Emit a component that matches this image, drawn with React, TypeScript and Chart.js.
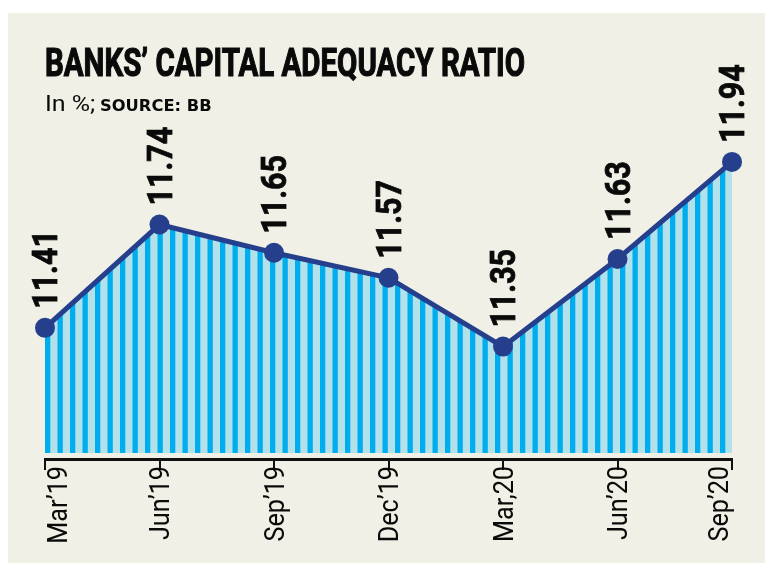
import React, { useEffect, useLayoutEffect, useRef } from 'react';
import { Chart, registerables } from 'chart.js';

Chart.register(...registerables);

const categories = ['Mar’19', 'Jun’19', 'Sep’19', 'Dec’19', 'Mar,20', 'Jun’20', 'Sep’20'];
const ratioValues = [11.41, 11.74, 11.65, 11.57, 11.35, 11.63, 11.94];
const valueLabels = ['11.41', '11.74', '11.65', '11.57', '11.35', '11.63', '11.94'];
const yMin = 10.991;
const yMax = 12.042;
const fillBase = 11.01;

const BEIGE = '#f1f0e6';
const NAVY = '#263f8d';
const DARK_STRIPE = '#00adee';
const LIGHT_STRIPE = '#b3e1ea';

function FitText(props: { text: string; width: number; style: React.CSSProperties }) {
  const ref = useRef<HTMLSpanElement>(null);
  useLayoutEffect(() => {
    const el = ref.current;
    if (!el) return;
    el.style.transform = 'none';
    const w = el.offsetWidth;
    if (w > 0) el.style.transform = `scaleX(${props.width / w})`;
  }, [props.text, props.width]);
  return (
    <span
      ref={ref}
      style={{
        position: 'absolute',
        whiteSpace: 'nowrap',
        display: 'inline-block',
        transformOrigin: '0 0',
        color: '#0a0a0a',
        ...props.style,
      }}
    >
      {props.text}
    </span>
  );
}

const labelPlugin = {
  id: 'rotatedLabels',
  afterDraw(chart: any) {
    const ctx = chart.ctx as CanvasRenderingContext2D;
    const meta = chart.getDatasetMeta(0);
    const xScale = chart.scales.x;
    const area = chart.chartArea;
    ctx.save();
    ctx.fillStyle = '#0a0a0a';
    ctx.strokeStyle = '#0a0a0a';

    // value labels above points
    const vSize = 35;
    ctx.font = `bold ${vSize}px Roboto`;
    ctx.lineWidth = 0.8;
    meta.data.forEach((pt: any, i: number) => {
      ctx.save();
      ctx.translate(pt.x, pt.y - 19);
      ctx.rotate(-Math.PI / 2);
      ctx.scale(0.87, 1);
      ctx.textAlign = 'left';
      ctx.textBaseline = 'alphabetic';
      ctx.fillText(valueLabels[i], 0, (vSize * 0.711) / 2);
      ctx.strokeText(valueLabels[i], 0, (vSize * 0.711) / 2);
      ctx.restore();
    });

    // category labels below axis
    const cSize = 28;
    const capH = cSize * 0.711;
    ctx.font = `${cSize}px Roboto`;
    categories.forEach((c, i) => {
      const tx = xScale.getPixelForTick(i);
      const x = Math.min(Math.max(tx, area.left + capH / 2 + 2), area.right - capH / 2 - 4);
      ctx.save();
      ctx.translate(x, area.bottom + 7);
      ctx.rotate(-Math.PI / 2);
      ctx.scale(0.9, 1);
      ctx.textAlign = 'right';
      ctx.textBaseline = 'alphabetic';
      ctx.fillText(c, 0, capH / 2);
      ctx.restore();
    });
    ctx.restore();
  },
};

function StripedLineChart() {
  const canvasRef = useRef<HTMLCanvasElement>(null);
  useEffect(() => {
    const canvas = canvasRef.current;
    if (!canvas) return;
    const ctx = canvas.getContext('2d')!;

    const pc = document.createElement('canvas');
    pc.width = 25;
    pc.height = 10;
    const p = pc.getContext('2d')!;
    p.fillStyle = LIGHT_STRIPE;
    p.fillRect(0, 0, 25, 10);
    p.fillStyle = DARK_STRIPE;
    p.fillRect(0, 0, 5.3, 10);
    p.fillRect(12.5, 0, 5.3, 10);
    const pattern = ctx.createPattern(pc, 'repeat')!;
    try {
      pattern.setTransform(new DOMMatrix().translate(37, 0));
    } catch (e) {}

    const chart = new Chart(ctx, {
      type: 'line',
      data: {
        labels: categories,
        datasets: [
          {
            data: ratioValues,
            borderColor: NAVY,
            borderWidth: 5,
            backgroundColor: pattern,
            fill: { value: fillBase },
            pointRadius: 10,
            pointHoverRadius: 10,
            pointBackgroundColor: NAVY,
            pointBorderWidth: 0,
            tension: 0,
            clip: false,
          } as any,
        ],
      },
      options: {
        responsive: false,
        animation: false,
        devicePixelRatio: 1,
        layout: { padding: { left: 37, right: 33, top: 117, bottom: 93 } },
        plugins: {
          legend: { display: false },
          tooltip: { enabled: false },
          title: { display: false },
        },
        scales: {
          x: {
            offset: false,
            grid: {
              display: true,
              drawOnChartArea: false,
              drawTicks: true,
              tickLength: 11,
              color: '#111',
              lineWidth: 2,
            },
            border: { display: true, color: '#111', width: 3 },
            ticks: { display: false },
          },
          y: {
            display: false,
            min: yMin,
            max: yMax,
          },
        },
      },
      plugins: [labelPlugin],
    });
    return () => chart.destroy();
  }, []);
  return (
    <canvas
      ref={canvasRef}
      width={757}
      height={550}
      style={{ position: 'absolute', left: 0, top: 0, width: 757, height: 550 }}
    />
  );
}

export default function App() {
  return (
    <div
      style={{
        position: 'absolute',
        left: 0,
        top: 0,
        width: 765,
        height: 563,
        background: '#ffffff',
        overflow: 'hidden',
      }}
    >
      <div
        style={{
          position: 'absolute',
          left: 8,
          top: 13,
          width: 757,
          height: 550,
          background: BEIGE,
        }}
      >
        <StripedLineChart />
        <FitText
          text="BANKS’ CAPITAL ADEQUACY RATIO"
          width={480}
          style={{
            left: 37,
            top: 31,
            fontFamily: 'Roboto',
            fontWeight: 700,
            fontSize: 39,
            lineHeight: '39px',
            WebkitTextStroke: '1.2px #0a0a0a',
          }}
        />
        <FitText
          text="In %;"
          width={50}
          style={{ left: 37, top: 80, fontFamily: 'Roboto', fontWeight: 400, fontSize: 22, lineHeight: '22px' }}
        />
        <FitText
          text="SOURCE: BB"
          width={112}
          style={{ left: 92, top: 86, fontFamily: '"DejaVu Sans"', fontWeight: 700, fontSize: 15, lineHeight: '15px' }}
        />
      </div>
    </div>
  );
}
